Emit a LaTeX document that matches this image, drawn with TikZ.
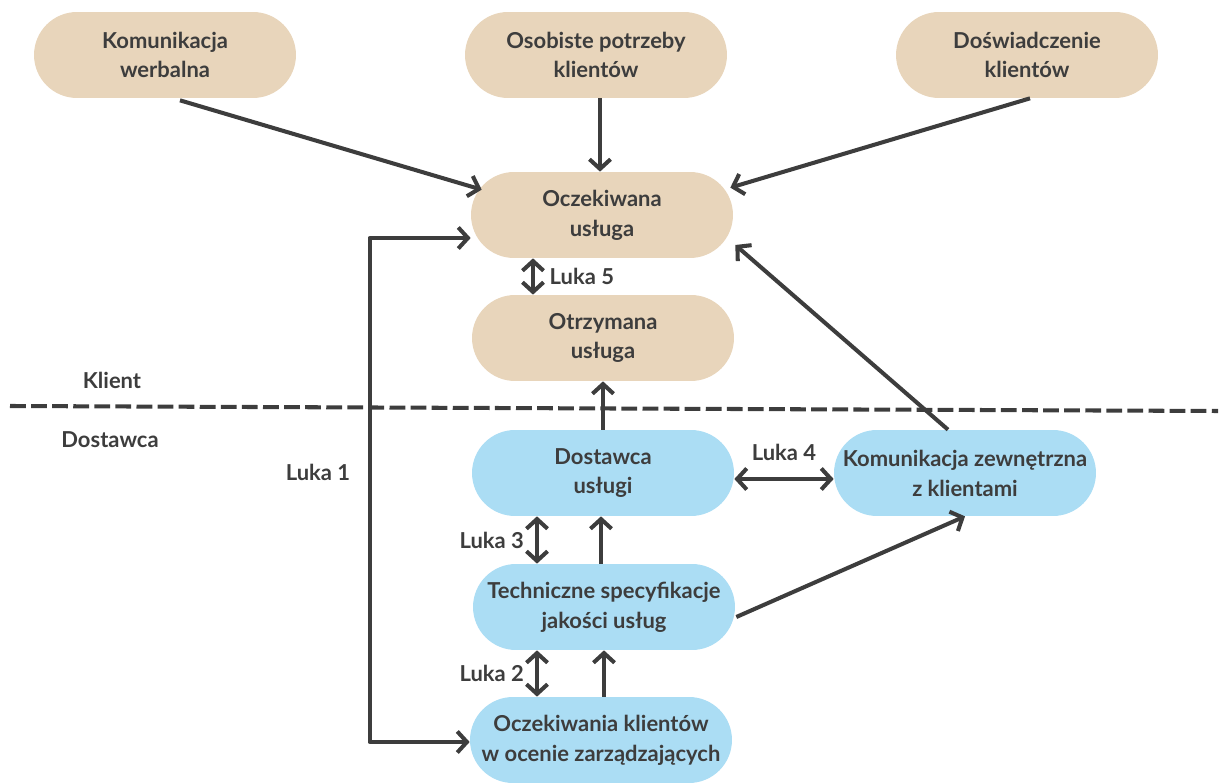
\documentclass[tikz,border=0pt]{standalone}
\usepackage{fontspec}
\setmainfont{Lato}
\usetikzlibrary{arrows.meta}
\definecolor{beige}{HTML}{E8D5BB}
\definecolor{blekit}{HTML}{ABDDF4}
\definecolor{grafit}{HTML}{3D3D3D}
\tikzset{
  pill/.style={rectangle,rounded corners=0.86cm,minimum width=5.24cm,minimum height=1.72cm,
    align=center,text=grafit,font=\bfseries\fontsize{12.5}{17}\selectfont,inner sep=2pt},
  klient/.style={pill,fill=beige},
  dostawca/.style={pill,fill=blekit},
  etykieta/.style={text=grafit,font=\bfseries\fontsize{12.5}{15}\selectfont},
  strzalka/.style={draw=grafit,line width=2.3pt,line join=round}
}
\begin{document}
\begin{tikzpicture}[x=0.02cm,y=-0.02cm,>={Straight Barb[length=5.5pt,width=12pt]}]
  \useasboundingbox (0,0) rectangle (1224,783);
  % strona klienta
  \node[klient] (werbalna) at (165,55) {Komunikacja\\werbalna};
  \node[klient] (potrzeby) at (596,55) {Osobiste potrzeby\\klientów};
  \node[klient] (doswiadczenie) at (1027,55) {Doświadczenie\\klientów};
  \node[klient] (oczekiwana) at (602,215) {Oczekiwana\\usługa};
  \node[klient] (otrzymana) at (603,338) {Otrzymana\\usługa};
  % strona dostawcy
  \node[dostawca] (dostawca) at (603,473) {Dostawca\\usługi};
  \node[dostawca] (komzew) at (965,473) {Komunikacja zewnętrzna\\z klientami};
  \node[dostawca] (techspec) at (604,607) {Techniczne specyfikacje\\jakości usług};
  \node[dostawca] (zarzadzajacy) at (601,740) {Oczekiwania klientów\\w ocenie zarządzających};
  % granica
  \coordinate (granicaL) at (10,406);
  \coordinate (granicaP) at (1218,411);
  \draw[grafit,line width=2.3pt,dash pattern=on 9pt off 3pt] (granicaL) -- (granicaP);
  \node[etykieta] (klient) at (112,380) {Klient};
  \node[etykieta] (dostawcaEt) at (110,440) {Dostawca};
  % strzalki
  \draw[strzalka,->] ([shift={(15,2)}]werbalna.south) -- ([shift={(11,18)}]oczekiwana.north west);
  \draw[strzalka,->] ([shift={(4,0)}]potrzeby.south) -- ([shift={(-2,0)}]oczekiwana.north);
  \draw[strzalka,->] ([shift={(3,0)}]doswiadczenie.south) -- ([shift={(-3,16)}]oczekiwana.north east);
  \draw[strzalka,<->] ([shift={(-69,0)}]oczekiwana.south) -- ([shift={(-70,0)}]otrzymana.north)
    node[etykieta,midway,right=5pt] (luka5) {Luka 5};
  \draw[strzalka,->] (dostawca.north) -- (otrzymana.south);
  \draw[strzalka,<->] ([shift={(0,6)}]dostawca.east) -- ([shift={(0,6)}]komzew.west)
    node[etykieta,midway,above=6pt] (luka4) {Luka 4};
  \draw[strzalka,->] ([shift={(-17,0)}]komzew.north) -- ([shift={(2,30)}]oczekiwana.east);
  \draw[strzalka,->] ([shift={(1,10)}]techspec.east) -- (komzew.south);
  \draw[strzalka,<->] ([shift={(-67,0)}]techspec.north) -- ([shift={(-66,0)}]dostawca.south)
    node[etykieta,midway,left=3pt] (luka3) {Luka 3};
  \draw[strzalka,->] ([shift={(-3,0)}]techspec.north) -- ([shift={(-2,0)}]dostawca.south);
  \draw[strzalka,<->] ([shift={(-64,0)}]zarzadzajacy.north) -- ([shift={(-67,0)}]techspec.south)
    node[etykieta,midway,left=3pt] (luka2) {Luka 2};
  \draw[strzalka,->] ([shift={(3,0)}]zarzadzajacy.north) -- (techspec.south);
  \draw[strzalka,<->] ([shift={(0,23)}]oczekiwana.west) -- ++(-101,0) |- ([shift={(0,2)}]zarzadzajacy.west);
  \node[etykieta] (luka1) at (318,472) {Luka 1};
\end{tikzpicture}
\end{document}
